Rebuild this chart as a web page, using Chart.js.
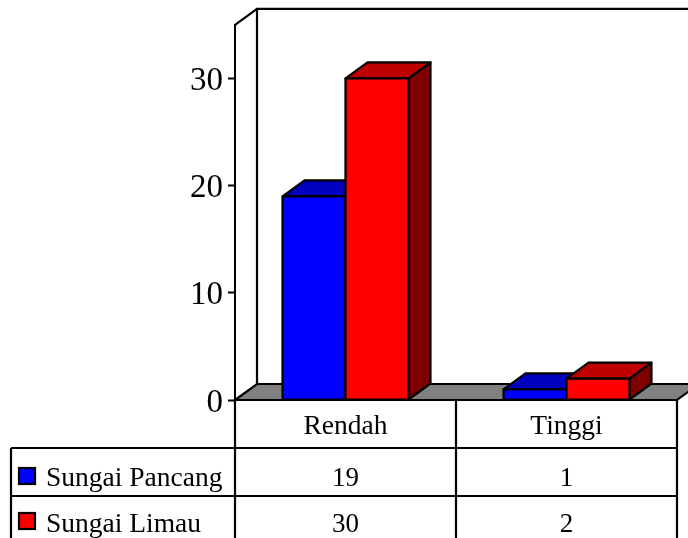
<!DOCTYPE html>
<html><head><meta charset="utf-8">
<style>html,body{margin:0;padding:0;background:#fff;overflow:hidden}#w{position:relative;width:688px;height:538px}</style>
<script src="https://cdn.jsdelivr.net/npm/chart.js@4"></script>
</head><body><div id="w"><canvas id="c" width="688" height="538"></canvas></div>
<script>
const categories = ['Rendah','Tinggi'];
const seriesNames = ['Sungai Pancang','Sungai Limau'];
const sungaiPancang = [19,1];
const sungaiLimau = [30,2];
const yTickValues = [0,10,20,30];
const frontColors = ['#0000ff','#ff0000'];
const topColors = ['#0000bf','#bf0000'];
const sideColors = ['#00007f','#7f0000'];
const DX = 22, DY = -16;
const FONT = '"Liberation Serif","Times New Roman",serif';

function poly(ctx, pts, fill){
  ctx.beginPath();
  pts.forEach((p,i)=> i ? ctx.lineTo(p[0],p[1]) : ctx.moveTo(p[0],p[1]));
  ctx.closePath();
  if(fill){ctx.fillStyle=fill;ctx.fill();}
  ctx.stroke();
}
const scene = {
  id:'scene',
  beforeDatasetsDraw(chart){
    const {ctx,chartArea:a} = chart;
    ctx.save();
    ctx.strokeStyle='#000';ctx.lineWidth=2.2;ctx.lineJoin='miter';
    poly(ctx,[[a.left,a.bottom],[a.left+DX,a.bottom+DY],[a.right+DX,a.bottom+DY],[a.right,a.bottom]],'#808080');
    ctx.beginPath();
    ctx.moveTo(a.left+DX,a.bottom+DY);ctx.lineTo(a.left+DX,a.top+DY);ctx.lineTo(a.right+DX,a.top+DY);
    ctx.stroke();
    ctx.beginPath();
    ctx.moveTo(a.left,a.top);ctx.lineTo(a.left+DX,a.top+DY);
    ctx.stroke();
    // Bars back to front: first series first, so the second overlaps it
    ctx.lineJoin='round';
    chart.data.datasets.forEach((d,i)=>{
      const meta=chart.getDatasetMeta(i);
      meta.data.forEach(b=>{
        const l=b.x-b.width/2,r=b.x+b.width/2,t=b.y,bt=b.base;
        poly(ctx,[[r,t],[r+DX,t+DY],[r+DX,bt+DY],[r,bt]],sideColors[i]);
        poly(ctx,[[l,t],[l+DX,t+DY],[r+DX,t+DY],[r,t]],topColors[i]);
      });
      meta.controller.draw();
      meta.data.forEach(b=>ctx.strokeRect(b.x-b.width/2,b.y,b.width,b.base-b.y));
    });
    ctx.restore();
  },
  beforeDatasetDraw(){ return false; },
  afterDraw(chart){
    const {ctx,chartArea:a,scales:{x}} = chart;
    const H=chart.height, rows=[448,496], legendLeft=11;
    ctx.save();
    ctx.strokeStyle='#000';ctx.lineWidth=2.2;
    ctx.beginPath();
    ctx.moveTo(a.left,a.bottom);ctx.lineTo(a.right,a.bottom);
    const step=(a.right-a.left)/categories.length;
    for(let i=0;i<=categories.length;i++){
      const px=a.left+step*i;
      ctx.moveTo(px,a.bottom);ctx.lineTo(px,H);
    }
    ctx.moveTo(legendLeft,rows[0]);ctx.lineTo(legendLeft,H);
    rows.forEach(y=>{ctx.moveTo(legendLeft,y);ctx.lineTo(a.right,y);});
    ctx.stroke();
    ctx.fillStyle='#000';
    ctx.textBaseline='alphabetic';
    ctx.textAlign='center';
    ctx.font='27.5px '+FONT;
    categories.forEach((c,i)=>ctx.fillText(c,x.getPixelForTick(i),434));
    const vals=[sungaiPancang,sungaiLimau], base=[486,532], mark=[468,513];
    vals.forEach((arr,r)=>{
      ctx.font='27px '+FONT;
      ctx.textAlign='center';
      arr.forEach((v,i)=>ctx.fillText(String(v),x.getPixelForTick(i),base[r]));
      ctx.font='27.5px '+FONT;
      ctx.textAlign='left';
      ctx.fillText(seriesNames[r],46,base[r]);
      ctx.fillStyle=frontColors[r];
      ctx.fillRect(19,mark[r],16,16);
      ctx.strokeRect(19,mark[r],16,16);
      ctx.fillStyle='#000';
    });
    ctx.restore();
  }
};
new Chart(document.getElementById('c'),{
  type:'bar',
  data:{labels:categories,datasets:[
    {label:seriesNames[0],data:sungaiPancang,backgroundColor:frontColors[0],borderWidth:0},
    {label:seriesNames[1],data:sungaiLimau,backgroundColor:frontColors[1],borderWidth:0}
  ]},
  options:{
    responsive:false,animation:false,
    layout:{padding:{top:24.5,right:11,left:0,bottom:0}},
    plugins:{legend:{display:false},title:{display:false},tooltip:{enabled:false}},
    datasets:{bar:{categoryPercentage:0.57,barPercentage:1}},
    scales:{
      x:{
        grid:{display:false},border:{display:false},
        ticks:{display:false},
        afterFit(s){s.height=138;}
      },
      y:{
        min:0,max:35,
        afterBuildTicks(s){s.ticks=yTickValues.map(v=>({value:v}));},
        grid:{drawOnChartArea:false,drawTicks:true,tickLength:7,tickWidth:2,tickColor:'#000'},
        border:{display:true,color:'#000',width:2},
        ticks:{color:'#000',font:{family:FONT,size:33},padding:5,labelOffset:3},
        afterFit(s){s.width=235;}
      }
    }
  },
  plugins:[scene]
});
</script></body></html>
